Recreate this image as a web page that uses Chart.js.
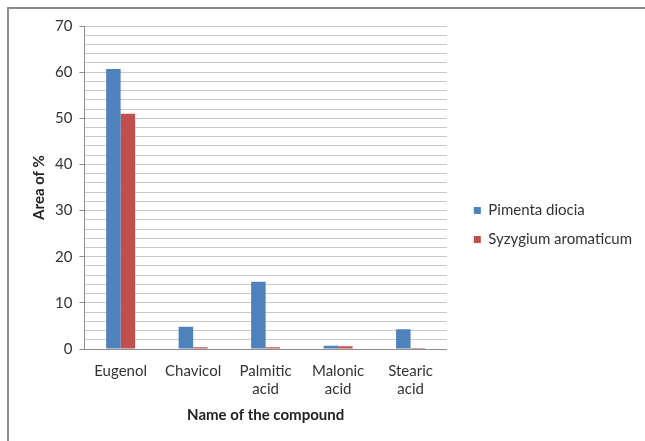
<!DOCTYPE html>
<html>
<head>
<meta charset="utf-8">
<script src="https://cdn.jsdelivr.net/npm/chart.js@4"></script>
<style>
    html, body { margin: 0; padding: 0; background: #fff; overflow: hidden; }
</style>
</head>
<body>
<canvas id="chart" width="645" height="441"></canvas>
<script>
// Compounds and their peak area (%)
const compounds = ['Eugenol', 'Chavicol', ['Palmitic', 'acid'], ['Malonic', 'acid'], ['Stearic', 'acid']];
const pimenta = [60.7, 4.8, 14.6, 0.7, 4.3];
const syzygium = [51.0, 0.4, 0.4, 0.6, 0.2];
const yTicks = [0, 10, 20, 30, 40, 50, 60, 70];

const font = "Lato, 'Open Sans', sans-serif";

// chart frame: only its top and left edges are in view
const framePlugin = {
    id: 'frame',
    beforeDraw: function (chart) {
        let ctx = chart.ctx;
        ctx.save();
        ctx.strokeStyle = '#8c8c8c';
        ctx.lineWidth = 2;
        ctx.beginPath();
        ctx.moveTo(8, chart.height);
        ctx.lineTo(8, 8);
        ctx.lineTo(chart.width, 8);
        ctx.stroke();
        ctx.restore();
    }
};

new Chart(document.getElementById('chart').getContext('2d'), {
    type: 'bar',
    data: {
        labels: compounds,
        datasets: [
            {label: 'Pimenta diocia', data: pimenta, backgroundColor: '#4F81BD'},
            {label: 'Syzygium aromaticum', data: syzygium, backgroundColor: '#C0504D'}
        ]
    },
    plugins: [framePlugin],
    options: {
        responsive: false,
        animation: false,
        layout: {padding: {left: 26, top: 26, right: 3, bottom: 17}},
        datasets: {bar: {categoryPercentage: 0.4, barPercentage: 1}},
        plugins: {
            legend: {
                position: 'right',
                maxWidth: 220,
                labels: {
                    font: {family: font, size: 15},
                    color: '#333',
                    boxWidth: 7, boxHeight: 7,
                    padding: 14
                }
            },
            tooltip: {enabled: false}
        },
        scales: {
            x: {
                grid: {display: false},
                border: {color: '#8c8c8c'},
                ticks: {font: {family: font, size: 15}, color: '#333', maxRotation: 0, padding: 5},
                title: {display: true, text: 'Name of the compound', color: '#222',
                        font: {family: font, size: 15, weight: 'bold'}, padding: {top: 3, bottom: 0}}
            },
            y: {
                min: 0, max: 70,
                afterBuildTicks: function (axis) {
                    let t = [];
                    for (let v = 0; v <= 70; v += 2) t.push({value: v});
                    axis.ticks = t;
                },
                grid: {
                    color: '#c8c8c8',
                    tickLength: 5,
                    tickColor: ctx => (ctx.tick && yTicks.includes(ctx.tick.value)) ? '#8c8c8c' : 'rgba(0,0,0,0)'
                },
                border: {color: '#8c8c8c'},
                ticks: {
                    autoSkip: false,
                    font: {family: font, size: 15}, color: '#333', padding: 7,
                    callback: v => yTicks.includes(v) ? v : ''
                },
                title: {display: true, text: 'Area of %', color: '#222',
                        font: {family: font, size: 15, weight: 'bold'}, padding: {top: 4, bottom: 0}}
            },
            // empty spacer between the plot and the legend
            gap: {
                type: 'linear',
                position: 'right',
                grid: {display: false},
                border: {display: false},
                ticks: {display: false},
                afterFit: s => { s.width = 13; }
            }
        }
    }
});
</script>
</body>
</html>
